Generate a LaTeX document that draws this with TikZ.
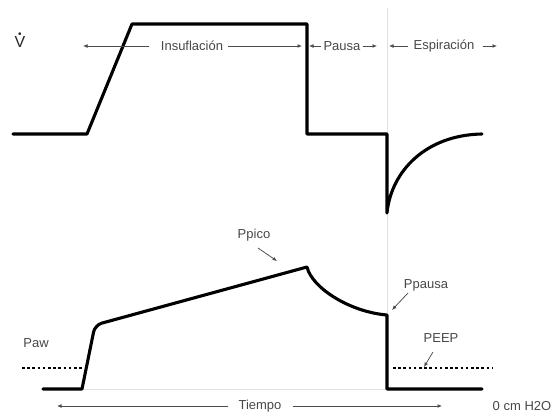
\documentclass[tikz,border=0pt]{standalone}
\usepackage{fontspec}
\setmainfont{Liberation Sans}
\usetikzlibrary{arrows.meta}
\begin{document}
\begin{tikzpicture}[x=1pt,y=-1pt,
  wave/.style={line width=3.1pt, line join=round, line cap=round},
  lbl/.style={font=\fontsize{13}{14}\selectfont, text=black!72, inner sep=1pt},
  thinarrow/.style={line width=0.75pt, draw=black!70, -{Latex[length=4.5pt,width=3.8pt]}},
  guide/.style={line width=0.6pt, draw=black!12},
  peep/.style={line width=2.6pt, dash pattern=on 2.6pt off 2.6pt}]
\useasboundingbox (0,0) rectangle (558,415);

% guide lines
\draw[guide] (387,8) -- (387,315);
\draw[guide] (82,389) -- (387,389);

% flow curve
\coordinate (f0) at (13,134);
\coordinate (f1) at (87,134);
\coordinate (f2) at (132,24);
\coordinate (f3) at (307,24);
\coordinate (f4) at (307,134);
\coordinate (f5) at (387,134);
\coordinate (f6) at (387,213);
\coordinate (f7) at (482,134);
\draw[wave] (f0) -- (f1) -- (f2) -- (f3) -- (f4) -- (f5) -- (f6)
  .. controls (391,172) and (425,135) .. (f7);

% pressure curve
\coordinate (p0) at (43,389);
\coordinate (p1) at (82,389);
\coordinate (p2) at (95,325);
\coordinate (p3) at (307,267);
\coordinate (p4) at (387,315);
\coordinate (p5) at (387,389);
\coordinate (p6) at (482,389);
\draw[wave] (p0) -- (p1) [rounded corners=7pt] -- (p2) [sharp corners] -- (p3)
  .. controls (312,288) and (350,312) .. (p4) -- (p5) -- (p6);

% PEEP dotted lines
\coordinate (d0) at (22,368);
\coordinate (d1) at (82,368);
\coordinate (d2) at (393,368);
\coordinate (d3) at (493,368);
\draw[peep] (d0) -- (d1);
\draw[peep] (d2) -- (d3);

% labels top
\node[lbl, font=\fontsize{16}{17}\selectfont, text=black!85] (vdot) at (20,42)
  {\ooalign{V\cr\hidewidth\raisebox{0.62em}{\fontsize{10}{10}\selectfont\textbullet}\hidewidth\cr}};
\node[lbl] (insu) at (192,46) {Insuflación};
\node[lbl] (pausa) at (342,46) {Pausa};
\node[lbl] (espi) at (444,46) {Espiración};
\coordinate (ia) at (83,46);
\coordinate (ib) at (302,46);
\coordinate (pa) at (309,46);
\coordinate (pb) at (377,46);
\coordinate (ea) at (389,46);
\coordinate (eb) at (497,46);
\draw[thinarrow] (insu.west) ++(-11,0) -- (ia);
\draw[thinarrow] (insu.east) ++(4,0) -- (ib);
\draw[thinarrow] (pausa.west) ++(-1,0) -- (pa);
\draw[thinarrow] (pausa.east) ++(1,0) -- (pb);
\draw[thinarrow] (espi.west) ++(-4,0) -- (ea);
\draw[thinarrow] (espi.east) ++(7,0) -- (eb);

% labels bottom
\node[lbl] (ppico) at (254,235) {Ppico};
\node[lbl] (ppausa) at (426,285) {Ppausa};
\node[lbl] (peeplbl) at (441,338) {PEEP};
\node[lbl] (paw) at (36,343) {Paw};
\node[lbl] (tiempo) at (260,406) {Tiempo};
\node[lbl] (zero) at (522,406) {0 cm H2O};
\coordinate (ppicoT) at (277,261);
\coordinate (ppausaT) at (392,310);
\coordinate (peepT) at (424,367);
\coordinate (ta) at (57,406);
\coordinate (tb) at (442,406);
\draw[thinarrow] (258,248) -- (ppicoT);
\draw[thinarrow] (408,293) -- (ppausaT);
\draw[thinarrow] (433,352) -- (peepT);
\draw[thinarrow] (tiempo.west) ++(-9,0) -- (ta);
\draw[thinarrow] (tiempo.east) ++(10,0) -- (tb);
\end{tikzpicture}
\end{document}
